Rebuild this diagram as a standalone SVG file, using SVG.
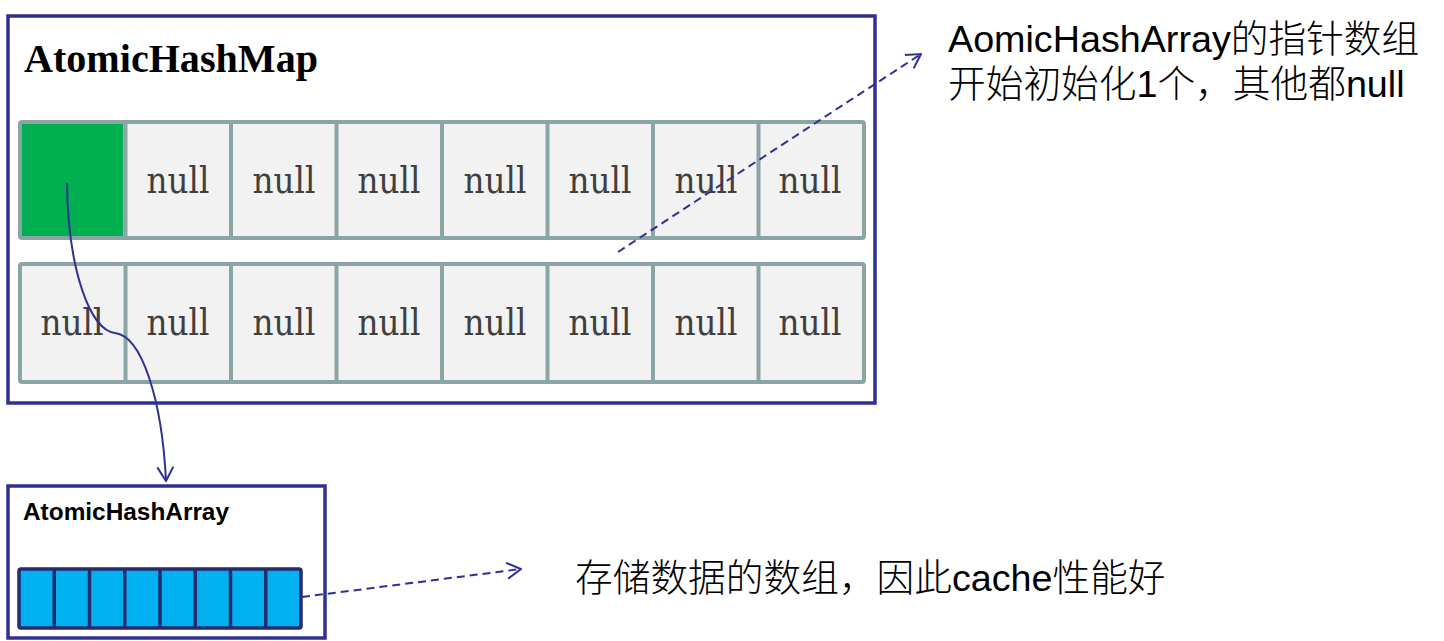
<svg xmlns="http://www.w3.org/2000/svg" width="1444" height="641" viewBox="0 0 1444 641">
<style>
.box{fill:#fff;stroke:#2E3192;stroke-width:3.5}
.cell{fill:#F2F2F2;stroke:#8BA5A7;stroke-width:4}
.null{font-family:"DejaVu Serif","Liberation Serif",serif;font-size:38px;fill:#404040;text-anchor:middle}
.note{font-family:"Liberation Sans","Noto Sans CJK SC",sans-serif;font-size:37.7px;fill:#000}
.cjk{font-family:"Noto Sans CJK SC",sans-serif;font-weight:300}
.conn{fill:none;stroke:#2E3192;stroke-width:2}
.dash{stroke-dasharray:8 5}
</style>
<defs>
<marker id="arr" markerUnits="userSpaceOnUse" markerWidth="16" markerHeight="18" viewBox="-1 -1 16 18" refX="14" refY="8" orient="auto">
<path d="M0,0 L14,8 L0,16" fill="none" stroke="#2E3192" stroke-width="2" stroke-dasharray="none"/>
</marker>
</defs>
<g id="map">
<rect class="box" x="8" y="16" width="867" height="387"/>
<text x="24" y="72" font-family="Liberation Serif,serif" font-weight="bold" font-size="41" textLength="294" lengthAdjust="spacingAndGlyphs" fill="#000">AtomicHashMap</text>
</g>
<g id="row1">
<rect class="cell" x="20" y="122" width="844" height="116" rx="2"/>
<rect x="22" y="124" width="101.5" height="112" fill="#00B050"/>
<path d="M125.5,122V238M231,122V238M336.5,122V238M442,122V238M547.5,122V238M653,122V238M758.5,122V238" stroke="#8BA5A7" stroke-width="4"/>
<text class="null" x="178" y="193" textLength="63" lengthAdjust="spacingAndGlyphs">null</text>
<text class="null" x="284" y="193" textLength="63" lengthAdjust="spacingAndGlyphs">null</text>
<text class="null" x="389" y="193" textLength="63" lengthAdjust="spacingAndGlyphs">null</text>
<text class="null" x="495" y="193" textLength="63" lengthAdjust="spacingAndGlyphs">null</text>
<text class="null" x="600" y="193" textLength="63" lengthAdjust="spacingAndGlyphs">null</text>
<text class="null" x="706" y="193" textLength="63" lengthAdjust="spacingAndGlyphs">null</text>
<text class="null" x="810" y="193" textLength="63" lengthAdjust="spacingAndGlyphs">null</text>
</g>
<g id="row2">
<rect class="cell" x="20" y="264" width="844" height="118" rx="2"/>
<path d="M125.5,264V382M231,264V382M336.5,264V382M442,264V382M547.5,264V382M653,264V382M758.5,264V382" stroke="#8BA5A7" stroke-width="4"/>
<text class="null" x="72" y="335" textLength="63" lengthAdjust="spacingAndGlyphs">null</text>
<text class="null" x="178" y="335" textLength="63" lengthAdjust="spacingAndGlyphs">null</text>
<text class="null" x="284" y="335" textLength="63" lengthAdjust="spacingAndGlyphs">null</text>
<text class="null" x="389" y="335" textLength="63" lengthAdjust="spacingAndGlyphs">null</text>
<text class="null" x="495" y="335" textLength="63" lengthAdjust="spacingAndGlyphs">null</text>
<text class="null" x="600" y="335" textLength="63" lengthAdjust="spacingAndGlyphs">null</text>
<text class="null" x="706" y="335" textLength="63" lengthAdjust="spacingAndGlyphs">null</text>
<text class="null" x="810" y="335" textLength="63" lengthAdjust="spacingAndGlyphs">null</text>
</g>
<g id="array">
<rect class="box" x="8" y="486" width="317" height="152"/>
<text x="23" y="520" font-family="Liberation Sans,Arial,sans-serif" font-weight="bold" font-size="23" textLength="206" lengthAdjust="spacingAndGlyphs" fill="#000">AtomicHashArray</text>
<rect x="19" y="569" width="282" height="59" rx="2" fill="#00B0F0" stroke="#262B70" stroke-width="3.5"/>
<path d="M54.25,569V628M89.5,569V628M124.75,569V628M160,569V628M195.25,569V628M230.5,569V628M265.75,569V628" stroke="#262B70" stroke-width="3.5"/>
</g>
<g id="note1">
<text class="note" x="948" y="52">AomicHashArray<tspan class="cjk">的指针数组</tspan></text>
<text class="note" x="948" y="97"><tspan class="cjk">开始初始化</tspan>1<tspan class="cjk">个，其他都</tspan>null</text>
</g>
<g id="note2">
<text class="note" x="575" y="591"><tspan class="cjk">存储数据的数组，因此</tspan>cache<tspan class="cjk">性能好</tspan></text>
</g>
<g id="connectors">
<path class="conn" d="M67,183 C68,270 90,330 115,333 C142,336 162,400 166,481" marker-end="url(#arr)"/>
<path class="conn dash" d="M618,252 L921,54" marker-end="url(#arr)"/>
<path class="conn dash" d="M302,597 L521,569" marker-end="url(#arr)"/>
</g>
</svg>
